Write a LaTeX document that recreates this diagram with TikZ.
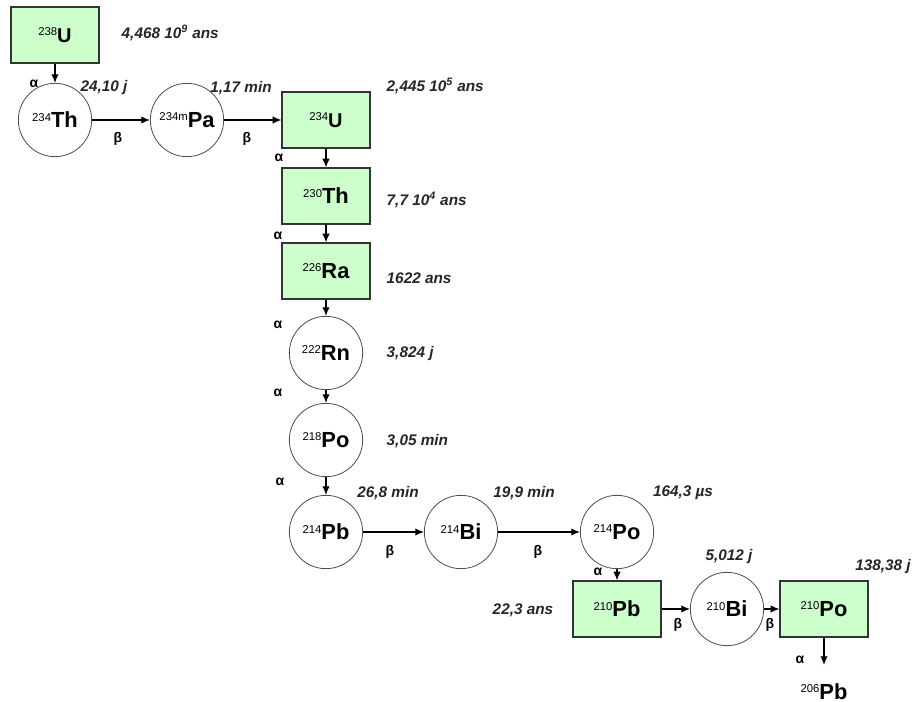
\documentclass[tikz,border=0pt]{standalone}
\usepackage{fontspec}
\setmainfont{Liberation Sans}
\usepackage{tikz}
\usetikzlibrary{calc,arrows.meta}
\usepackage{xcolor}
\definecolor{vertpale}{HTML}{CCFFCC}
\newcommand{\iso}[2]{\raisebox{5pt}{\fontsize{8.5}{9}\mdseries\selectfont #1}#2}

\begin{document}
\begin{tikzpicture}[x=0.75pt,y=-0.75pt,>={Latex[length=6.5pt,width=5.5pt]},
    boite/.style={draw=black!80, line width=0.9pt, fill=vertpale, minimum width=66pt, minimum height=42pt, inner sep=0pt, font=\bfseries\fontsize{16.4}{18}\selectfont},
    boiteU/.style={boite, font=\bfseries\fontsize{15}{17}\selectfont},
    rond/.style={circle, draw=black!70, line width=0.6pt, minimum size=55pt, inner sep=0pt, font=\bfseries\fontsize{16.4}{18}\selectfont},
    duree/.style={font=\bfseries\itshape\fontsize{11.5}{13}\selectfont, text=black!85},
    desint/.style={font=\bfseries\fontsize{10.5}{12}\selectfont},
    fleche/.style={->, line width=0.9pt}]
    \useasboundingbox (0,0) rectangle (913,702);

    % Noyaux
    \node[boiteU] (U238) at (55,35) {\iso{238}{U}};
    \node[rond] (Th234) at (55,120) {\iso{234}{Th}};
    \node[rond] (Pa234) at (187,120) {\iso{234m}{Pa}};
    \node[boiteU] (U234) at (326,120) {\iso{234}{U}};
    \node[boite] (Th230) at (326,196) {\iso{230}{Th}};
    \node[boite] (Ra226) at (326,271) {\iso{226}{Ra}};
    \node[rond] (Rn222) at (326,353) {\iso{222}{Rn}};
    \node[rond] (Po218) at (326,440) {\iso{218}{Po}};
    \node[rond] (Pb214) at (326,532) {\iso{214}{Pb}};
    \node[rond] (Bi214) at (461,532) {\iso{214}{Bi}};
    \node[rond] (Po214) at (617,532) {\iso{214}{Po}};
    \node[boite] (Pb210) at (617,609) {\iso{210}{Pb}};
    \node[rond] (Bi210) at (727,609) {\iso{210}{Bi}};
    \node[boite] (Po210) at (824,609) {\iso{210}{Po}};
    \node[anchor=base, font=\bfseries\fontsize{16.4}{18}\selectfont] (Pb206) at (824,699) {\iso{206}{Pb}};
    \coordinate (fin) at (824,665);

    % Desintegrations
    \draw[fleche] (U238) -- (Th234);
    \draw[fleche] (Th234) -- (Pa234);
    \draw[fleche] (Pa234) -- (U234);
    \draw[fleche] (U234) -- (Th230);
    \draw[fleche] (Th230) -- (Ra226);
    \draw[fleche] (Ra226) -- (Rn222);
    \draw[fleche] (Rn222) -- (Po218);
    \draw[fleche] (Po218) -- (Pb214);
    \draw[fleche] (Pb214) -- (Bi214);
    \draw[fleche] (Bi214) -- (Po214);
    \draw[fleche] (Po214) -- (Pb210);
    \draw[fleche] (Pb210) -- (Bi210);
    \draw[fleche] (Bi210) -- (Po210);
    \draw[fleche] (Po210.south) -- (fin);

    % Alpha et beta
    \node[desint] (a1) at (34,84) {α};
    \node[desint] (b1) at (118,139) {β};
    \node[desint] (b2) at (247,139) {β};
    \node[desint] (a2) at (279,158) {α};
    \node[desint] (a3) at (278,236) {α};
    \node[desint] (a4) at (278,325) {α};
    \node[desint] (a5) at (278,393) {α};
    \node[desint] (a6) at (280,482) {α};
    \node[desint] (b3) at (390,552) {β};
    \node[desint] (b4) at (538,552) {β};
    \node[desint] (a7) at (598,572) {α};
    \node[desint] (b5) at (678,625) {β};
    \node[desint] (b6) at (770,625) {β};
    \node[desint] (a8) at (800,660) {α};

    % Periodes
    \node[duree, anchor=west] (t1) at (117,33) {4,468 10\textsuperscript{9} ans};
    \node[duree] (t2) at (104,88) {24,10 j};
    \node[duree] (t3) at (241,88) {1,17 min};
    \node[duree, anchor=west] (t4) at (382,86) {2,445 10\textsuperscript{5} ans};
    \node[duree, anchor=west] (t5) at (382,200) {7,7 10\textsuperscript{4} ans};
    \node[duree, anchor=west] (t6) at (382,278) {1622 ans};
    \node[duree, anchor=west] (t7) at (382,354) {3,824 j};
    \node[duree, anchor=west] (t8) at (382,441) {3,05 min};
    \node[duree] (t9) at (388,493) {26,8 min};
    \node[duree] (t10) at (524,493) {19,9 min};
    \node[duree] (t11) at (683,493) {164,3 µs};
    \node[duree] (t12) at (523,610) {22,3 ans};
    \node[duree] (t13) at (729,557) {5,012 j};
    \node[duree] (t14) at (883,567) {138,38 j};
\end{tikzpicture}
\end{document}
